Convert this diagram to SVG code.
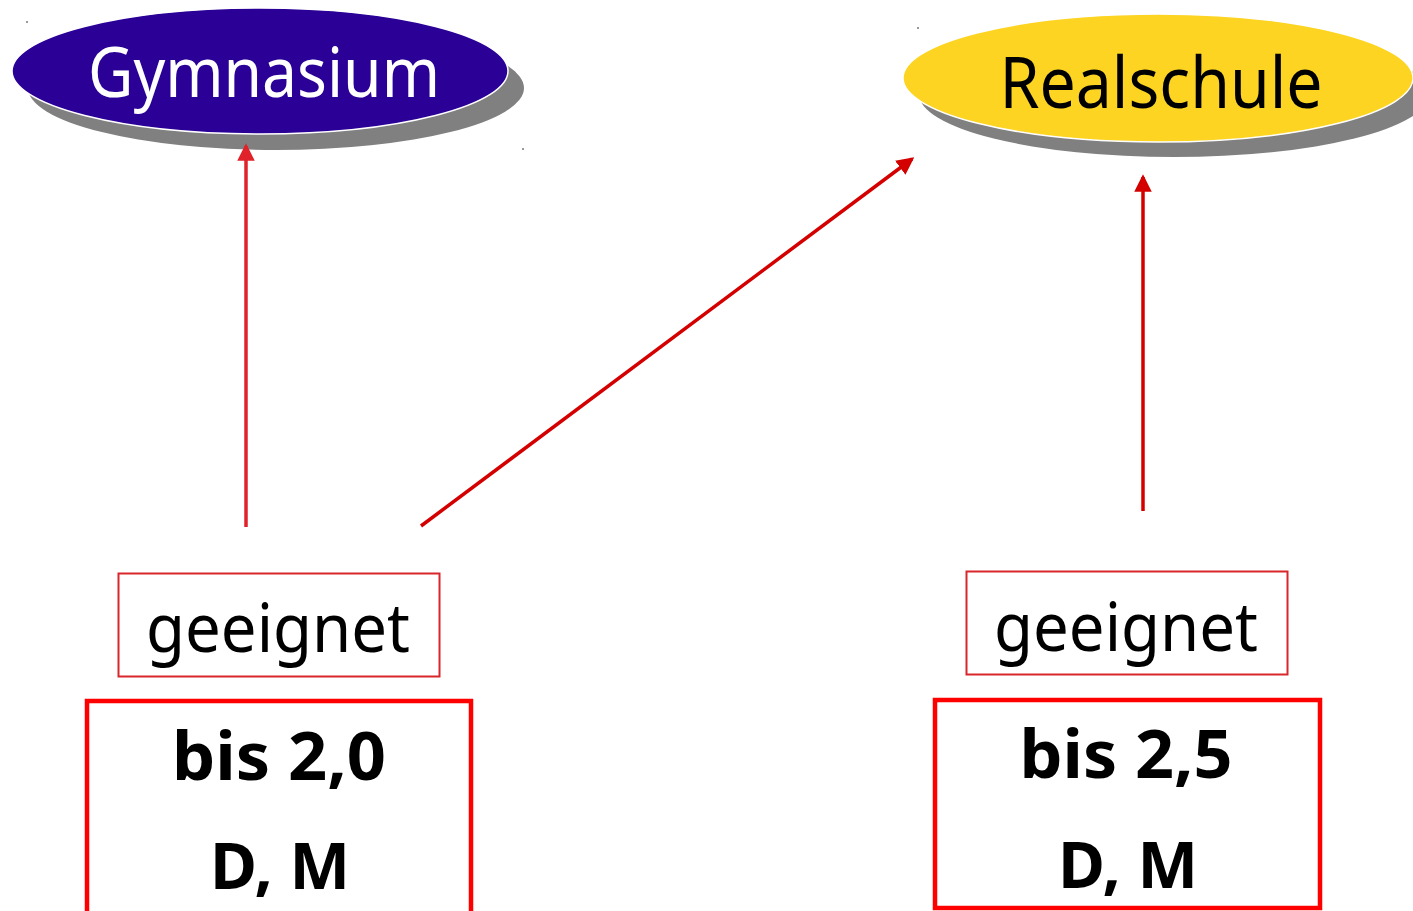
<svg xmlns="http://www.w3.org/2000/svg" width="1413" height="911" viewBox="0 0 1413 911">
<style>
.shadow{fill:#808080}
.small{fill:#fff;stroke:#D8262C;stroke-width:2}
.big{fill:#fff;stroke:#FF0000;stroke-width:4.5}
.t{font-family:"Noto Sans","Open Sans","DejaVu Sans",sans-serif;text-anchor:middle}
.b{font-weight:bold}
.conn{stroke:#D40000;stroke-width:3.5;fill:none}
.dot{fill:#9a9a9a}
</style>
<defs>
<marker id="ah" markerWidth="5" markerHeight="5" refX="4.2" refY="2.5" orient="auto" markerUnits="strokeWidth">
<path d="M0,0 L5,2.5 L0,5 Z" fill="#D40000"/>
</marker>
<marker id="ah2" markerWidth="5" markerHeight="5" refX="4.2" refY="2.5" orient="auto" markerUnits="strokeWidth">
<path d="M0,0 L5,2.5 L0,5 Z" fill="#E0222A"/>
</marker>
</defs>
<rect x="26" y="21" width="2" height="2" class="dot"/>
<rect x="522" y="148" width="2" height="2" class="dot"/>
<rect x="917" y="27" width="2" height="2" class="dot"/>
<g id="gymnasium">
<ellipse cx="276" cy="88" rx="248" ry="62" class="shadow"/>
<ellipse cx="260" cy="71" rx="248" ry="63" fill="#2A0096" stroke="#fff" stroke-width="1.5"/>
<text x="264" y="97" class="t" font-size="70" fill="#fff" textLength="352" lengthAdjust="spacingAndGlyphs">Gymnasium</text>
</g>
<g id="realschule">
<ellipse cx="1174" cy="94" rx="255" ry="63" class="shadow"/>
<ellipse cx="1158" cy="78" rx="255" ry="64" fill="#FDD422" stroke="#fff" stroke-width="1.5"/>
<text x="1161" y="108" class="t" font-size="71" fill="#000" textLength="323" lengthAdjust="spacingAndGlyphs">Realschule</text>
</g>
<g id="connectors">
<line x1="246" y1="527" x2="246" y2="146" class="conn" stroke="#E0222A" style="stroke:#E0222A" marker-end="url(#ah2)"/>
<line x1="421" y1="526" x2="912" y2="159" class="conn" marker-end="url(#ah)"/>
<line x1="1143" y1="511" x2="1143" y2="177" class="conn" marker-end="url(#ah)"/>
</g>
<g id="geeignet-left">
<rect x="118.5" y="573.5" width="321" height="103" class="small"/>
<text x="278" y="652" class="t" font-size="68" textLength="264" lengthAdjust="spacingAndGlyphs">geeignet</text>
</g>
<g id="geeignet-right">
<rect x="966.5" y="571.5" width="321" height="103" class="small"/>
<text x="1126" y="651" class="t" font-size="68" textLength="264" lengthAdjust="spacingAndGlyphs">geeignet</text>
</g>
<g id="box-left">
<rect x="87" y="701" width="384" height="215" class="big"/>
<text x="279" y="780" class="t b" font-size="66" textLength="214" lengthAdjust="spacingAndGlyphs">bis 2,0</text>
<text x="280" y="889" class="t b" font-size="64" textLength="140" lengthAdjust="spacingAndGlyphs">D, M</text>
</g>
<g id="box-right">
<rect x="935" y="700" width="385" height="208" class="big"/>
<text x="1126" y="778" class="t b" font-size="66" textLength="213" lengthAdjust="spacingAndGlyphs">bis 2,5</text>
<text x="1128" y="888" class="t b" font-size="64" textLength="140" lengthAdjust="spacingAndGlyphs">D, M</text>
</g>
</svg>
